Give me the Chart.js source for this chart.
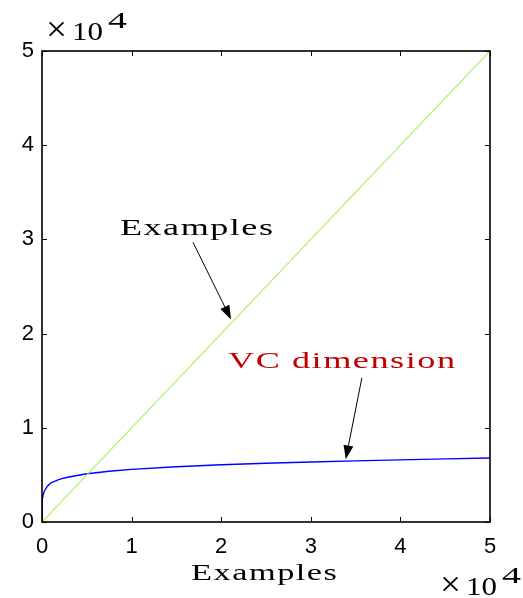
<!DOCTYPE html>
<html lang="en">
<head>
    <meta charset="UTF-8">
    <title>VC dimension vs examples</title>
    <script src="https://cdn.jsdelivr.net/npm/chart.js"></script>
    <style>
        body {
            margin: 0;
            padding: 0;
            background: #fff;
        }
        canvas {
            display: block;
        }
    </style>
</head>
<body>
    <canvas id="vcChart" width="523" height="598"></canvas>

    <script>
        // number of examples (x) for both curves
        const examplesX = [0, 50000];
        const examplesY = [0, 50000];

        const vcX = [0, 5, 20, 60, 150, 300, 600, 1000, 2000, 3000, 5000, 7500, 10000,
                     15000, 20000, 25000, 30000, 35000, 40000, 45000, 50000];
        const vcY = [0, 1200, 1800, 2400, 2950, 3350, 3800, 4150, 4560, 4780, 5120, 5380, 5590,
                     5870, 6070, 6230, 6370, 6490, 6600, 6700, 6800];

        const tickValues = [0, 10000, 20000, 30000, 40000, 50000];
        const tickLabels = ['0', '1', '2', '3', '4', '5'];

        // text labels with arrows, in data units
        const notes = [
            { text: 'Examples', color: '#000', x: 17240, y: 30470, width: 153,
              from: [16850, 29700], to: [21100, 21500] },
            { text: 'VC dimension', color: '#c00000', x: 33430, y: 16350, width: 227,
              from: [35700, 15300], to: [33900, 6650] }
        ];

        const SERIF = '"Liberation Serif", "DejaVu Serif", serif';

        function toPoints(xs, ys) {
            return xs.map((x, i) => ({ x: x, y: ys[i] }));
        }

        // serif text stretched to a given width, starting at x
        function stretched(ctx, text, x, baseline, size, width, spacing) {
            ctx.save();
            ctx.font = size + 'px ' + SERIF;
            ctx.letterSpacing = (spacing || 0) + 'px';
            const w = ctx.measureText(text).width - (spacing || 0);
            ctx.translate(x, baseline);
            ctx.scale(width / w, 1);
            ctx.textAlign = 'left';
            ctx.textBaseline = 'alphabetic';
            ctx.fillText(text, 0, 0);
            ctx.restore();
        }

        function centred(ctx, text, cx, baseline, size, width) {
            stretched(ctx, text, cx - width / 2, baseline, size, width, 1);
        }

        function arrow(ctx, x1, y1, x2, y2) {
            const ang = Math.atan2(y2 - y1, x2 - x1);
            const len = 14, half = 5;
            const bx = x2 - len * Math.cos(ang), by = y2 - len * Math.sin(ang);
            ctx.beginPath();
            ctx.moveTo(x1, y1);
            ctx.lineTo(bx, by);
            ctx.strokeStyle = '#000';
            ctx.lineWidth = 1;
            ctx.stroke();
            ctx.beginPath();
            ctx.moveTo(x2, y2);
            ctx.lineTo(bx + half * Math.sin(ang), by - half * Math.cos(ang));
            ctx.lineTo(bx - half * Math.sin(ang), by + half * Math.cos(ang));
            ctx.closePath();
            ctx.fillStyle = '#000';
            ctx.fill();
        }

        // the "×10^4" scale factor
        function exponent(ctx, x, baseline) {
            ctx.fillStyle = '#000';
            stretched(ctx, '\u00d7', x - 2, baseline + 1, 36, 21);
            stretched(ctx, '10', x + 24, baseline, 25, 31);
            stretched(ctx, '4', x + 60, baseline - 12, 24, 19);
        }

        const framePlugin = {
            id: 'frame',
            afterDatasetsDraw(chart) {
                const ctx = chart.ctx;
                const a = chart.chartArea;
                const xs = chart.scales.x, ys = chart.scales.y;

                ctx.save();
                // inward tick marks on all four sides
                ctx.strokeStyle = '#000';
                ctx.lineWidth = 1;
                ctx.beginPath();
                tickValues.forEach(v => {
                    const px = Math.round(xs.getPixelForValue(v)) + 0.5;
                    const py = Math.round(ys.getPixelForValue(v)) + 0.5;
                    ctx.moveTo(px, a.bottom); ctx.lineTo(px, a.bottom - 5);
                    ctx.moveTo(px, a.top); ctx.lineTo(px, a.top + 5);
                    ctx.moveTo(a.left, py); ctx.lineTo(a.left + 5, py);
                    ctx.moveTo(a.right, py); ctx.lineTo(a.right - 5, py);
                });
                ctx.stroke();

                // axes box
                ctx.lineWidth = 1.6;
                ctx.strokeRect(a.left, a.top, a.right - a.left, a.bottom - a.top);

                // annotations
                notes.forEach(n => {
                    ctx.fillStyle = n.color;
                    centred(ctx, n.text, xs.getPixelForValue(n.x), ys.getPixelForValue(n.y), 24, n.width);
                    arrow(ctx, xs.getPixelForValue(n.from[0]), ys.getPixelForValue(n.from[1]),
                          xs.getPixelForValue(n.to[0]), ys.getPixelForValue(n.to[1]));
                });

                // axis title and scale factors
                ctx.fillStyle = '#000';
                centred(ctx, 'Examples', (a.left + a.right) / 2 - 2, a.bottom + 58, 23, 146);
                exponent(ctx, a.left + 6, a.top - 11);
                exponent(ctx, a.right - 48, chart.height - 3);
                ctx.restore();
            }
        };

        new Chart(document.getElementById('vcChart'), {
            type: 'scatter',
            data: {
                datasets: [
                    {
                        label: 'Examples',
                        data: toPoints(examplesX, examplesY),
                        showLine: true,
                        borderColor: '#a6f25e',
                        borderWidth: 1.2,
                        pointRadius: 0
                    },
                    {
                        label: 'VC dimension',
                        data: toPoints(vcX, vcY),
                        showLine: true,
                        borderColor: '#0000ff',
                        borderWidth: 1.4,
                        pointRadius: 0,
                        tension: 0
                    }
                ]
            },
            options: {
                responsive: false,
                animation: false,
                devicePixelRatio: 1,
                layout: { padding: { top: 51, right: 33, bottom: 0, left: 0 } },
                plugins: {
                    legend: { display: false },
                    tooltip: { enabled: false }
                },
                scales: {
                    x: {
                        type: 'linear',
                        min: 0,
                        max: 50000,
                        afterBuildTicks: s => { s.ticks = tickValues.map(v => ({ value: v })); },
                        afterFit: s => { s.height = 76; },
                        grid: { display: false, drawTicks: false },
                        border: { display: false },
                        ticks: {
                            padding: 12,
                            color: '#000',
                            maxRotation: 0,
                            font: { family: '"Liberation Sans", Arial, sans-serif', size: 22 },
                            callback: (v, i) => tickLabels[i]
                        }
                    },
                    y: {
                        type: 'linear',
                        min: 0,
                        max: 50000,
                        afterBuildTicks: s => { s.ticks = tickValues.map(v => ({ value: v })); },
                        afterFit: s => { s.width = 42; },
                        grid: { display: false, drawTicks: false },
                        border: { display: false },
                        ticks: {
                            padding: 8,
                            color: '#000',
                            font: { family: '"Liberation Sans", Arial, sans-serif', size: 22 },
                            callback: (v, i) => tickLabels[i]
                        }
                    }
                }
            },
            plugins: [framePlugin]
        });
    </script>
</body>
</html>
